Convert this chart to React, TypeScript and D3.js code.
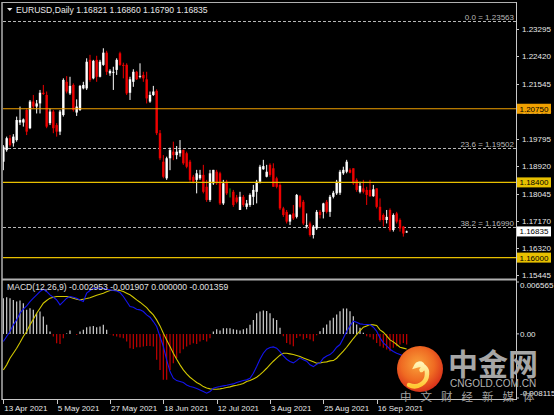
import React, { useEffect } from "react";
import * as d3 from "d3";

// ---------- data ----------
const title = "EURUSD,Daily  1.16821 1.16860 1.16790 1.16835";
const macdTitle = "MACD(12,26,9) -0.002953 -0.001907 0.000000 -0.001359";

const dateLabels = ["13 Apr 2021", "5 May 2021", "27 May 2021", "18 Jun 2021", "12 Jul 2021", "3 Aug 2021", "25 Aug 2021", "16 Sep 2021"];
const dateBarIndex = [0, 16, 32, 48, 64, 80, 96, 112];

const opens = [
  1.1906, 1.1943, 1.1981, 1.1965, 1.1975, 1.2031, 1.2031, 1.2071, 1.2013, 1.2098,
  1.2082, 1.2092, 1.2126, 1.2119, 1.2029, 1.2066, 1.2023, 1.2002, 1.2055, 1.2161,
  1.2124, 1.2151, 1.2063, 1.2071, 1.2140, 1.2140, 1.2231, 1.2172, 1.2231, 1.2177,
  1.2215, 1.2254, 1.2188, 1.2190, 1.2199, 1.2252, 1.2215, 1.2215, 1.2126, 1.2161,
  1.2193, 1.2177, 1.2183, 1.2169, 1.2098, 1.2119, 1.2132, 1.1997, 1.1906, 1.1853,
  1.1917, 1.1938, 1.1927, 1.1933, 1.1944, 1.1933, 1.1906, 1.1858, 1.1848, 1.1853,
  1.1864, 1.1826, 1.1784, 1.1837, 1.1874, 1.1869, 1.1773, 1.1842, 1.1808, 1.1810,
  1.1792, 1.1752, 1.1794, 1.1762, 1.1768, 1.1794, 1.1810, 1.1842, 1.1882, 1.1858,
  1.1896, 1.1885, 1.1853, 1.1832, 1.1757, 1.1746, 1.1715, 1.1741, 1.1730, 1.1796,
  1.1778, 1.1699, 1.1709, 1.1672, 1.1693, 1.1746, 1.1746, 1.1778, 1.1746, 1.1794,
  1.1805, 1.1807, 1.1869, 1.1874, 1.1880, 1.1885, 1.1848, 1.1810, 1.1821, 1.1816,
  1.1816, 1.1796, 1.1821, 1.1762, 1.1736, 1.1720, 1.1752, 1.1688, 1.1741, 1.1720,
  1.1699, 1.16821,
];
const highs = [
  1.1959, 1.1986, 1.1991, 1.1994, 1.2050, 1.2082, 1.2044, 1.2076, 1.2103, 1.2119,
  1.2103, 1.2135, 1.2151, 1.2130, 1.2076, 1.2071, 1.2029, 1.2071, 1.2172, 1.2179,
  1.2177, 1.2156, 1.2105, 1.2151, 1.2161, 1.2236, 1.2247, 1.2231, 1.2244, 1.2231,
  1.2268, 1.2260, 1.2201, 1.2209, 1.2236, 1.2257, 1.2222, 1.2220, 1.2177, 1.2201,
  1.2196, 1.2220, 1.2193, 1.2193, 1.2130, 1.2148, 1.2137, 1.2007, 1.1927, 1.1922,
  1.1951, 1.1970, 1.1956, 1.1975, 1.1944, 1.1938, 1.1912, 1.1864, 1.1880, 1.1880,
  1.1896, 1.1848, 1.1880, 1.1880, 1.1880, 1.1874, 1.1848, 1.1848, 1.1821, 1.1816,
  1.1800, 1.1810, 1.1800, 1.1784, 1.1805, 1.1832, 1.1848, 1.1896, 1.1912, 1.1896,
  1.1901, 1.1901, 1.1858, 1.1837, 1.1762, 1.1752, 1.1739, 1.1768, 1.1803, 1.1800,
  1.1784, 1.1741, 1.1715, 1.1704, 1.1752, 1.1752, 1.1775, 1.1784, 1.1800, 1.1813,
  1.1848, 1.1880, 1.1890, 1.1912, 1.1885, 1.1885, 1.1853, 1.1842, 1.1848, 1.1826,
  1.1848, 1.1832, 1.1821, 1.1789, 1.1741, 1.1752, 1.1757, 1.1741, 1.1746, 1.1725,
  1.1701, 1.16860,
];
const lows = [
  1.1879, 1.1938, 1.1954, 1.1954, 1.1970, 1.2023, 1.2018, 1.1991, 1.2010, 1.2076,
  1.2060, 1.2060, 1.2119, 1.2013, 1.2023, 1.1997, 1.1986, 1.1991, 1.2050, 1.2124,
  1.2119, 1.2066, 1.2052, 1.2068, 1.2137, 1.2135, 1.2161, 1.2169, 1.2161, 1.2175,
  1.2212, 1.2183, 1.2180, 1.2135, 1.2183, 1.2212, 1.2172, 1.2119, 1.2103, 1.2145,
  1.2167, 1.2172, 1.2161, 1.2092, 1.2094, 1.2116, 1.1991, 1.1911, 1.1853, 1.1848,
  1.1879, 1.1911, 1.1914, 1.1922, 1.1896, 1.1885, 1.1842, 1.1837, 1.1805, 1.1848,
  1.1805, 1.1778, 1.1778, 1.1832, 1.1832, 1.1768, 1.1768, 1.1800, 1.1792, 1.1762,
  1.1773, 1.1752, 1.1762, 1.1754, 1.1762, 1.1768, 1.1773, 1.1837, 1.1880, 1.1856,
  1.1858, 1.1826, 1.1821, 1.1752, 1.1730, 1.1709, 1.1704, 1.1720, 1.1725, 1.1757,
  1.1704, 1.1693, 1.1667, 1.1661, 1.1688, 1.1725, 1.1725, 1.1741, 1.1730, 1.1789,
  1.1800, 1.1800, 1.1864, 1.1869, 1.1869, 1.1832, 1.1810, 1.1805, 1.1805, 1.1768,
  1.1794, 1.1794, 1.1757, 1.1715, 1.1699, 1.1709, 1.1683, 1.1683, 1.1709, 1.1683,
  1.1667, 1.16790,
];
const closes = [
  1.1954, 1.1981, 1.1959, 1.1986, 1.2039, 1.2039, 1.2041, 1.2002, 1.2098, 1.2082,
  1.2092, 1.2126, 1.2122, 1.2018, 1.2066, 1.2013, 1.2002, 1.2066, 1.2167, 1.2130,
  1.2148, 1.2071, 1.2082, 1.2148, 1.2151, 1.2225, 1.2167, 1.2228, 1.2177, 1.2225,
  1.2254, 1.2193, 1.2196, 1.2193, 1.2231, 1.2215, 1.2212, 1.2124, 1.2169, 1.2193,
  1.2169, 1.2180, 1.2172, 1.2108, 1.2119, 1.2130, 1.1997, 1.1917, 1.1858, 1.1917,
  1.1943, 1.1927, 1.1938, 1.1943, 1.1901, 1.1890, 1.1848, 1.1842, 1.1869, 1.1864,
  1.1810, 1.1784, 1.1869, 1.1880, 1.1837, 1.1773, 1.1837, 1.1805, 1.1808, 1.1768,
  1.1778, 1.1794, 1.1768, 1.1773, 1.1800, 1.1816, 1.1842, 1.1890, 1.1892, 1.1874,
  1.1864, 1.1826, 1.1826, 1.1757, 1.1736, 1.1715, 1.1736, 1.1725, 1.1800, 1.1762,
  1.1709, 1.1704, 1.1672, 1.1699, 1.1746, 1.1736, 1.1773, 1.1746, 1.1794, 1.1807,
  1.1842, 1.1874, 1.1880, 1.1906, 1.1871, 1.1837, 1.1816, 1.1829, 1.1810, 1.1800,
  1.1796, 1.1818, 1.1762, 1.1720, 1.1720, 1.1730, 1.1688, 1.1736, 1.1715, 1.1693,
  1.1677, 1.16835,
];

const macdHist = [
  0.00451, 0.00464, 0.00451, 0.00430, 0.00409, 0.00422, 0.00388, 0.00304, 0.00325, 0.00304,
  0.00262, 0.00283, 0.00219, 0.00114, 0.00030, -0.00034, -0.00118, -0.00127, -0.00055, 0.00005,
  0.00042, -0.00002, -0.00013, 0.00030, 0.00051, 0.00084, 0.00093, 0.00101, 0.00084, 0.00093,
  0.00114, 0.00051, -0.00004, -0.00025, -0.00034, -0.00046, -0.00055, -0.00097, -0.00181, -0.00190,
  -0.00169, -0.00169, -0.00160, -0.00152, -0.00152, -0.00160, -0.00329, -0.00456, -0.00582, -0.00582,
  -0.00456, -0.00371, -0.00308, -0.00245, -0.00194, -0.00160, -0.00139, -0.00118, -0.00127, -0.00097,
  -0.00076, -0.00097, -0.00055, 0.00030, 0.00059, 0.00042, 0.00072, 0.00072, 0.00072, 0.00059,
  0.00051, 0.00042, 0.00059, 0.00072, 0.00114, 0.00177, 0.00262, 0.00283, 0.00295, 0.00291,
  0.00262, 0.00198, 0.00177, 0.00076, -0.00030, -0.00114, -0.00135, -0.00156, -0.00051, -0.00030,
  -0.00072, -0.00051, -0.00072, -0.00093, -0.00017, 0.00034, 0.00076, 0.00118, 0.00169, 0.00203,
  0.00245, 0.00287, 0.00321, 0.00321, 0.00287, 0.00224, 0.00118, 0.00076, 0.00013, -0.00030,
  -0.00042, -0.00072, -0.00114, -0.00156, -0.00177, -0.00198, -0.00219, -0.00177, -0.00156, -0.00135,
  -0.00114, -0.00136,
];
const macdMain = [
  -0.00097, -0.00034, 0.00030, 0.00114, 0.00177, 0.00262, 0.00312, 0.00354, 0.00409, 0.00452,
  0.00494, 0.00536, 0.00565, 0.00536, 0.00494, 0.00464, 0.00430, 0.00367, 0.00409, 0.00452,
  0.00473, 0.00464, 0.00452, 0.00430, 0.00409, 0.00515, 0.00549, 0.00578, 0.00578, 0.00578,
  0.00578, 0.00565, 0.00557, 0.00549, 0.00544, 0.00523, 0.00473, 0.00409, 0.00346, 0.00338,
  0.00312, 0.00304, 0.00283, 0.00241, 0.00211, 0.00156, 0.00093, -0.00034, -0.00160, -0.00329,
  -0.00477, -0.00561, -0.00591, -0.00603, -0.00616, -0.00646, -0.00667, -0.00675, -0.00692, -0.00709,
  -0.00730, -0.00751, -0.00730, -0.00688, -0.00675, -0.00667, -0.00658, -0.00650, -0.00641, -0.00633,
  -0.00616, -0.00603, -0.00591, -0.00582, -0.00561, -0.00498, -0.00414, -0.00321, -0.00245, -0.00194,
  -0.00173, -0.00165, -0.00181, -0.00224, -0.00279, -0.00321, -0.00350, -0.00367, -0.00338, -0.00304,
  -0.00329, -0.00346, -0.00392, -0.00414, -0.00384, -0.00367, -0.00308, -0.00279, -0.00262, -0.00224,
  -0.00169, -0.00135, -0.00055, 0.00034, 0.00101, 0.00160, 0.00148, 0.00127, 0.00122, 0.00118,
  0.00118, 0.00084, 0.00034, -0.00051, -0.00114, -0.00152, -0.00194, -0.00222, -0.00245, -0.00262,
  -0.00280, -0.00295,
];
const macdSignal = [
  -0.00456, -0.00392, -0.00308, -0.00245, -0.00181, -0.00110, -0.00034, 0.00030, 0.00114, 0.00186,
  0.00262, 0.00325, 0.00388, 0.00422, 0.00452, 0.00464, 0.00473, 0.00473, 0.00473, 0.00473,
  0.00464, 0.00452, 0.00439, 0.00430, 0.00439, 0.00447, 0.00456, 0.00473, 0.00490, 0.00502,
  0.00515, 0.00532, 0.00549, 0.00553, 0.00549, 0.00549, 0.00536, 0.00515, 0.00494, 0.00464,
  0.00430, 0.00401, 0.00367, 0.00333, 0.00283, 0.00241, 0.00177, 0.00101, 0.00008, -0.00076,
  -0.00160, -0.00245, -0.00321, -0.00392, -0.00456, -0.00506, -0.00549, -0.00582, -0.00616, -0.00637,
  -0.00667, -0.00684, -0.00696, -0.00701, -0.00701, -0.00696, -0.00688, -0.00679, -0.00671, -0.00658,
  -0.00650, -0.00641, -0.00629, -0.00603, -0.00591, -0.00570, -0.00549, -0.00515, -0.00477, -0.00435,
  -0.00388, -0.00346, -0.00308, -0.00270, -0.00245, -0.00245, -0.00253, -0.00262, -0.00274, -0.00287,
  -0.00304, -0.00321, -0.00338, -0.00354, -0.00371, -0.00367, -0.00359, -0.00354, -0.00342, -0.00338,
  -0.00308, -0.00262, -0.00219, -0.00169, -0.00114, -0.00059, -0.00008, 0.00038, 0.00084, 0.00101,
  0.00118, 0.00114, 0.00106, 0.00051, 0.00021, -0.00025, -0.00076, -0.00101, -0.00135, -0.00169,
  -0.00180, -0.00191,
];

const priceTicks = [1.23295, 1.2242, 1.21545, 1.2067, 1.19795, 1.1892, 1.18045, 1.1717, 1.1632, 1.15445];
const macdTicks = [0.006565, 0, -0.008115];
const macdTickLabels = ["0.006565", "0.00", "-0.008115"];

const fibNames = ["0.0", "23.6", "38.2"];
const fibValues = [1.23563, 1.19502, 1.1699];

const levelValues = [1.2075, 1.184, 1.16];
const levelColors = ["#f0a000", "#e8c000", "#e8c000"];
const lastPrice = 1.16835;

// ---------- layout ----------
const W = 554;
const H = 415;
const FONT = "'Liberation Sans', Arial, sans-serif";
const AXIS_X = 516;

export default function App() {
  useEffect(() => {
    document.body.style.margin = "0";
    document.body.style.background = "#000";
  }, []);

  const n = closes.length;
  const x = d3.scaleLinear().domain([0, n - 1]).range([10 / 3, 406.67]);
  const y = d3.scaleLinear().domain([1.15445, 1.23295]).range([275, 29]);
  const ym = d3.scaleLinear().domain([-0.008115, 0.006565]).range([398, 282]);

  const lineGen = d3
    .line<number>()
    .x((_, i) => x(i))
    .y((v) => ym(v));

  const fmt = (v: number) => v.toFixed(5);

  return (
    <svg
      width={W}
      height={H}
      style={{ position: "fixed", left: 0, top: 0, display: "block" }}
      fontFamily={FONT}
    >
      <defs>
        <radialGradient id="logoGrad" cx="45%" cy="40%" r="60%">
          <stop offset="0%" stopColor="#f9a23a" />
          <stop offset="60%" stopColor="#ef6a22" />
          <stop offset="100%" stopColor="#d9321a" />
        </radialGradient>
        <linearGradient id="swirlGrad" x1="0" y1="0" x2="0" y2="1">
          <stop offset="0%" stopColor="#fff4b8" />
          <stop offset="100%" stopColor="#ffc933" />
        </linearGradient>
        <clipPath id="mainClip">
          <rect x={3} y={3} width={AXIS_X - 3} height={275} />
        </clipPath>
        <clipPath id="macdClip">
          <rect x={3} y={281} width={AXIS_X - 3} height={118} />
        </clipPath>
      </defs>
      <rect x={0} y={0} width={W} height={H} fill="#000" />

      {/* title */}
      <polygon points="7,8 12.5,8 9.75,11" fill="#e8e8e8" />
      <text x={16} y={13} fontSize={8.6} fill="#e8e8e8">
        {title}
      </text>

      {/* fib dashed lines */}
      {fibValues.map((v, i) => (
        <g key={"fib" + i}>
          <line x1={3} x2={AXIS_X} y1={Math.round(y(v)) + 0.5} y2={Math.round(y(v)) + 0.5} stroke="#b8b8b8" strokeDasharray="3 2" />
          <text x={514} y={Math.round(y(v)) - 1.5} fontSize={8} fill="#b8b8b8" textAnchor="end">
            {fibNames[i] + " = " + fmt(v)}
          </text>
        </g>
      ))}

      {/* candles */}
      <g clipPath="url(#mainClip)">
        {opens.map((o, i) => {
          const c = closes[i];
          const col = c > o ? "#ffffff" : c < o ? "#ee0000" : "#22aa22";
          const xi = x(i);
          const yt = y(Math.max(o, c));
          const yb = y(Math.min(o, c));
          return (
            <g key={"c" + i}>
              <line x1={xi} x2={xi} y1={y(highs[i])} y2={y(lows[i])} stroke={col} strokeWidth={1} />
              {c !== o && <rect x={xi - 1.2} width={2.4} y={yt} height={Math.max(1, yb - yt)} fill={col} />}
            </g>
          );
        })}
      </g>

      {/* horizontal levels */}
      {levelValues.map((v, i) => (
        <line key={"lv" + i} x1={3} x2={AXIS_X} y1={y(v)} y2={y(v)} stroke={levelColors[i]} strokeWidth={1.2} />
      ))}

      {/* MACD histogram */}
      <g clipPath="url(#macdClip)">
        {macdHist.map((h, i) => (
          <line
            key={"h" + i}
            x1={x(i)}
            x2={x(i)}
            y1={ym(0)}
            y2={ym(h)}
            stroke={h >= 0 ? "#cfcfcf" : "#c40000"}
            strokeWidth={1.2}
          />
        ))}
        <path d={lineGen(macdSignal) || ""} fill="none" stroke="#d2c800" strokeWidth={1.1} />
        <path d={lineGen(macdMain) || ""} fill="none" stroke="#1414ee" strokeWidth={1.1} />
      </g>
      <text x={7} y={290} fontSize={8.6} fill="#e0e0e0">
        {macdTitle}
      </text>

      {/* frame */}
      <line x1={2} x2={2} y1={2} y2={400} stroke="#b0b0b0" strokeWidth={1.5} />
      <line x1={2} x2={AXIS_X} y1={2.5} y2={2.5} stroke="#b0b0b0" strokeWidth={1} />
      <line x1={AXIS_X + 0.5} x2={AXIS_X + 0.5} y1={2} y2={400} stroke="#c8c8c8" strokeWidth={1} />
      <line x1={2} x2={AXIS_X} y1={279.5} y2={279.5} stroke="#b0b0b0" strokeWidth={2} />
      <line x1={2} x2={AXIS_X} y1={399.5} y2={399.5} stroke="#c8c8c8" strokeWidth={1} />

      {/* price axis */}
      {priceTicks.map((v, i) => (
        <g key={"pt" + i}>
          <line x1={AXIS_X} x2={AXIS_X + 3} y1={Math.round(y(v)) + 0.5} y2={Math.round(y(v)) + 0.5} stroke="#c8c8c8" />
          <text x={522} y={y(v) + 3} fontSize={8} fill="#e8e8e8">
            {fmt(v)}
          </text>
        </g>
      ))}
      {levelValues.map((v, i) => (
        <g key={"lb" + i}>
          <rect x={517} y={y(v) - 5} width={34} height={10} fill={levelColors[i]} />
          <text x={519.5} y={y(v) + 3} fontSize={8} fill="#000">
            {fmt(v)}
          </text>
        </g>
      ))}
      <rect x={517} y={y(lastPrice) - 5} width={34} height={10} fill="#ffffff" />
      <text x={519.5} y={y(lastPrice) + 3} fontSize={8} fill="#000">
        {fmt(lastPrice)}
      </text>

      {/* MACD axis */}
      {macdTicks.map((v, i) => (
        <g key={"mt" + i}>
          <line x1={AXIS_X} x2={AXIS_X + 3} y1={ym(v)} y2={ym(v)} stroke="#c8c8c8" />
          <text x={520} y={i === 0 ? 288 : i === 2 ? 396 : ym(v) + 3} fontSize={8} fill="#e8e8e8">
            {macdTickLabels[i]}
          </text>
        </g>
      ))}

      {/* time axis */}
      {dateBarIndex.map((b, i) => (
        <g key={"dt" + i}>
          <line x1={Math.round(x(b)) + 0.5} x2={Math.round(x(b)) + 0.5} y1={399} y2={404} stroke="#c8c8c8" />
          <text x={x(b) + 1} y={410.5} fontSize={8} fill="#e8e8e8">
            {dateLabels[i]}
          </text>
        </g>
      ))}

      {/* watermark */}
      <g>
        <circle cx={420} cy={369} r={23} fill="url(#logoGrad)" />
        <path
          d="M 421.5 370 A 3.5 3.5 0 1 0 416.5 365.5 A 8 8 0 0 1 427 374 A 12.5 12.5 0 0 1 409 385"
          fill="none"
          stroke="url(#swirlGrad)"
          strokeWidth={4.5}
          strokeLinecap="round"
        />
        <text x={448} y={375} fontSize={30} fontWeight={700} fill="#a6a6a6" fontFamily="'Noto Sans CJK SC', sans-serif">
          中金网
        </text>
        <text x={450} y={387} fontSize={10} fill="#b4b4b4" fontFamily={FONT}>
          CNGOLD.COM.CN
        </text>
        <text x={400} y={401} fontSize={11.5} fill="#a0a0a0" letterSpacing={9} fontFamily="'Noto Sans CJK SC', sans-serif">
          中文财经新媒体
        </text>
      </g>
    </svg>
  );
}
